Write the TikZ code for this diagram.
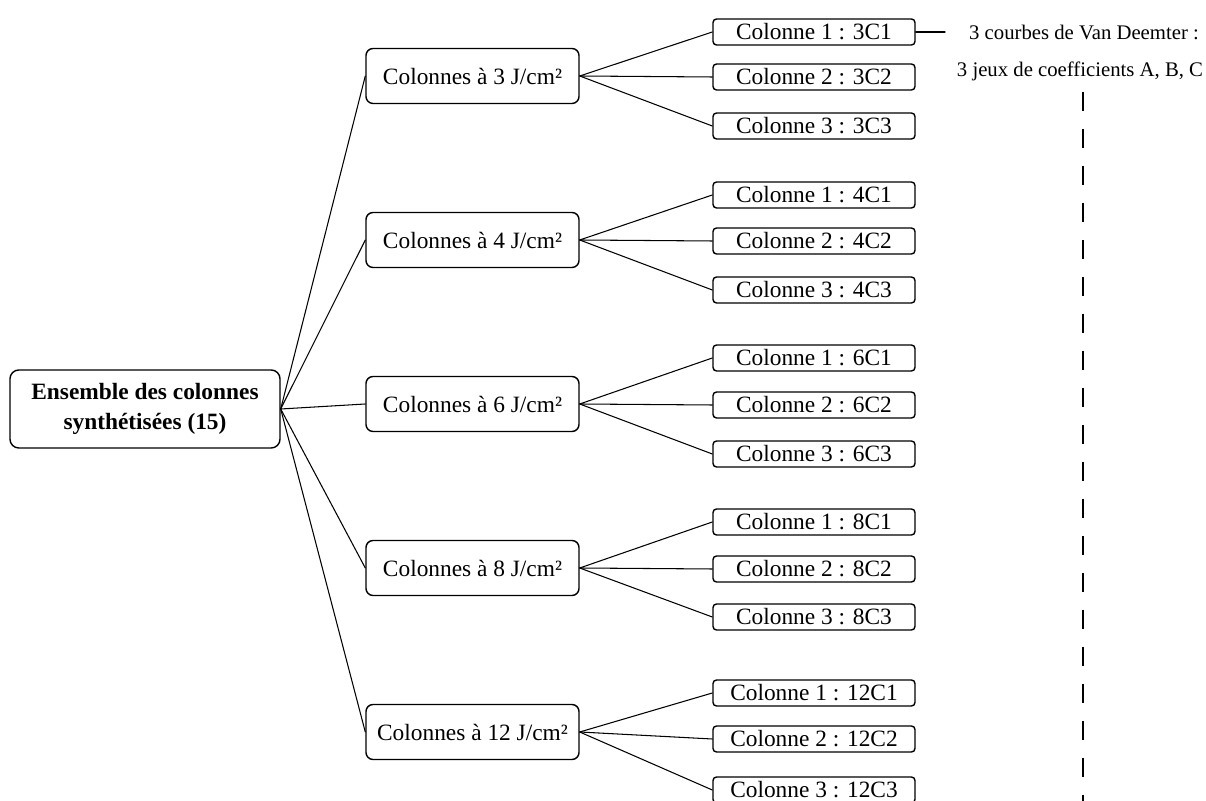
\documentclass[tikz,border=0pt]{standalone}
\usepackage{fontspec}
\setmainfont{Liberation Serif}
\usepackage{tikz}

\tikzset{
  rootbox/.style={draw,line width=0.8pt,rounded corners=5pt,minimum width=5.4cm,minimum height=1.56cm,align=center,font=\fontsize{13.3}{17}\selectfont\bfseries},
  energybox/.style={draw,line width=0.8pt,rounded corners=4pt,minimum width=4.26cm,minimum height=1.1cm,font=\fontsize{13.3}{16}\selectfont},
  colbox/.style={draw,line width=0.8pt,rounded corners=2pt,minimum width=4.04cm,minimum height=0.52cm,inner sep=0pt,font=\fontsize{13.3}{16}\selectfont},
  note/.style={inner sep=0pt,font=\fontsize{11.8}{14}\selectfont},
  link/.style={line width=0.6pt}
}

\begin{document}
\begin{tikzpicture}[line cap=round]
\useasboundingbox (0,0) rectangle (24.12,16.02);

% root
\node[rootbox] (all) at (2.9,7.84) {Ensemble des colonnes\\synthétisées (15)};

% energy groups
\node[energybox] (e3) at (9.45,14.5) {Colonnes à 3 J/cm²};
\node[energybox] (e4) at (9.45,11.22) {Colonnes à 4 J/cm²};
\node[energybox] (e6) at (9.45,7.94) {Colonnes à 6 J/cm²};
\node[energybox] (e8) at (9.45,4.66) {Colonnes à 8 J/cm²};
\node[energybox] (e12) at (9.45,1.38) {Colonnes à 12 J/cm²};

% columns
\node[colbox] (c3-1) at (16.28,15.38) {Colonne 1 : 3C1};
\node[colbox] (c3-2) at (16.28,14.48) {Colonne 2 : 3C2};
\node[colbox] (c3-3) at (16.28,13.5) {Colonne 3 : 3C3};
\node[colbox] (c4-1) at (16.28,12.12) {Colonne 1 : 4C1};
\node[colbox] (c4-2) at (16.28,11.2) {Colonne 2 : 4C2};
\node[colbox] (c4-3) at (16.28,10.22) {Colonne 3 : 4C3};
\node[colbox] (c6-1) at (16.28,8.86) {Colonne 1 : 6C1};
\node[colbox] (c6-2) at (16.28,7.92) {Colonne 2 : 6C2};
\node[colbox] (c6-3) at (16.28,6.94) {Colonne 3 : 6C3};
\node[colbox] (c8-1) at (16.28,5.58) {Colonne 1 : 8C1};
\node[colbox] (c8-2) at (16.28,4.64) {Colonne 2 : 8C2};
\node[colbox] (c8-3) at (16.28,3.68) {Colonne 3 : 8C3};
\node[colbox] (c12-1) at (16.28,2.16) {Colonne 1 : 12C1};
\node[colbox] (c12-2) at (16.28,1.24) {Colonne 2 : 12C2};
\node[colbox] (c12-3) at (16.28,0.22) {Colonne 3 : 12C3};

% Van Deemter note
\node[note] (vd1) at (21.68,15.38) {3 courbes de Van Deemter :};
\node[note] (vd2) at (21.6,14.6) {3 jeux de coefficients A, B, C};
\coordinate (vdend) at (18.9,15.38);
\coordinate (dashtop) at (21.66,14.18);
\coordinate (dashbot) at (21.66,-0.2);

% links
\draw[link] (all.east) -- (e3.west);
\draw[link] (all.east) -- (e4.west);
\draw[link] (all.east) -- (e6.west);
\draw[link] (all.east) -- (e8.west);
\draw[link] (all.east) -- (e12.west);
\draw[link] (e3.east) -- (c3-1.west);
\draw[link] (e3.east) -- (c3-2.west);
\draw[link] (e3.east) -- (c3-3.west);
\draw[link] (e4.east) -- (c4-1.west);
\draw[link] (e4.east) -- (c4-2.west);
\draw[link] (e4.east) -- (c4-3.west);
\draw[link] (e6.east) -- (c6-1.west);
\draw[link] (e6.east) -- (c6-2.west);
\draw[link] (e6.east) -- (c6-3.west);
\draw[link] (e8.east) -- (c8-1.west);
\draw[link] (e8.east) -- (c8-2.west);
\draw[link] (e8.east) -- (c8-3.west);
\draw[link] (e12.east) -- (c12-1.west);
\draw[link] (e12.east) -- (c12-2.west);
\draw[link] (e12.east) -- (c12-3.west);
\draw[link] (c3-1.east) -- (vdend);
\draw[line width=1.1pt,line cap=butt,dash pattern=on 0.38cm off 0.36cm] (dashtop) -- (dashbot);
\end{tikzpicture}
\end{document}
